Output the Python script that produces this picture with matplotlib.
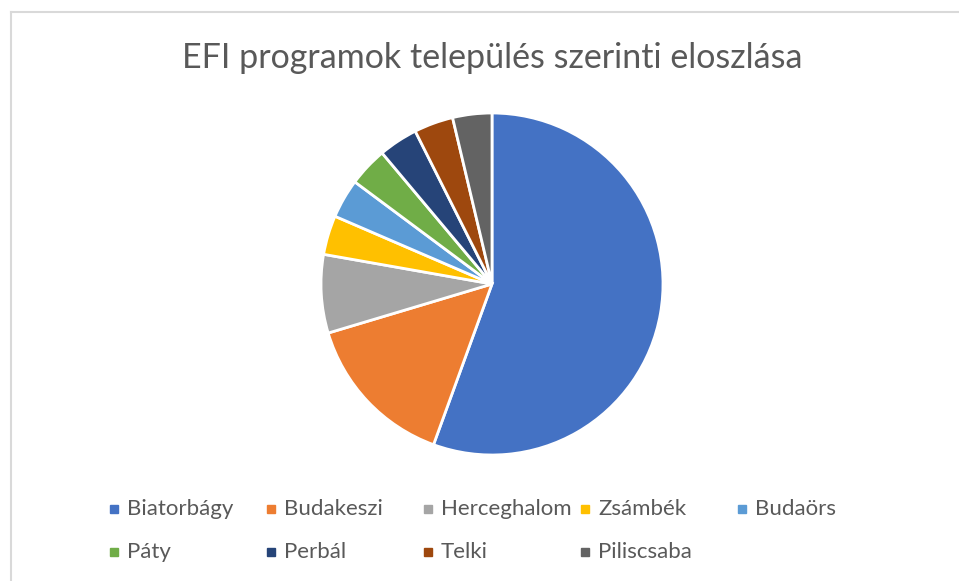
import matplotlib.pyplot as plt
from matplotlib.patches import Rectangle

# adatok
telepulesek = ["Biatorbágy", "Budakeszi", "Herceghalom", "Zsámbék", "Budaörs",
               "Páty", "Perbál", "Telki", "Piliscsaba"]
programok = [15, 4, 2, 1, 1, 1, 1, 1, 1]
szinek = ["#4472C4", "#ED7D31", "#A5A5A5", "#FFC000", "#5B9BD5",
          "#70AD47", "#264478", "#9E480E", "#636363"]

W, H = 959, 581
fig = plt.figure(figsize=(W / 100, H / 100), dpi=100)
plt.rcParams["font.family"] = ["Lato", "DejaVu Sans"]
szurke = "#595959"

# keret (csak a bal es felso el latszik)
fig.add_artist(plt.Line2D([10.5 / W, 10.5 / W], [0, 1 - 11.5 / H], color="#D9D9D9", lw=1.5))
fig.add_artist(plt.Line2D([10.5 / W, 1], [1 - 11.5 / H, 1 - 11.5 / H], color="#D9D9D9", lw=1.5))

# kordiagram
cx, cy, r = 492, 284, 171
ax = fig.add_axes([(cx - r) / W, 1 - (cy + r) / H, 2 * r / W, 2 * r / H])
ax.pie(programok, colors=szinek, startangle=90, counterclock=False,
       wedgeprops=dict(edgecolor="white", linewidth=2))
ax.set_xlim(-1, 1)
ax.set_ylim(-1, 1)
ax.set_aspect("equal")
ax.axis("off")

# cim
fig.text(492 / W, 1 - 58 / H, "EFI programok település szerinti eloszlása",
         ha="center", va="center", fontsize=24.5, color=szurke)

# jelmagyarazat
for i, (nev, szin) in enumerate(zip(telepulesek, szinek)):
    x = 110 + (i % 5) * 157
    y = 509 + (i // 5) * 43
    fig.add_artist(Rectangle((x / W, 1 - (y + 4) / H), 8 / W, 8 / H,
                             transform=fig.transFigure, color=szin))
    fig.text((x + 17) / W, 1 - y / H, nev, ha="left", va="center",
             fontsize=16, color=szurke)

fig.savefig("out.png", dpi=100)
